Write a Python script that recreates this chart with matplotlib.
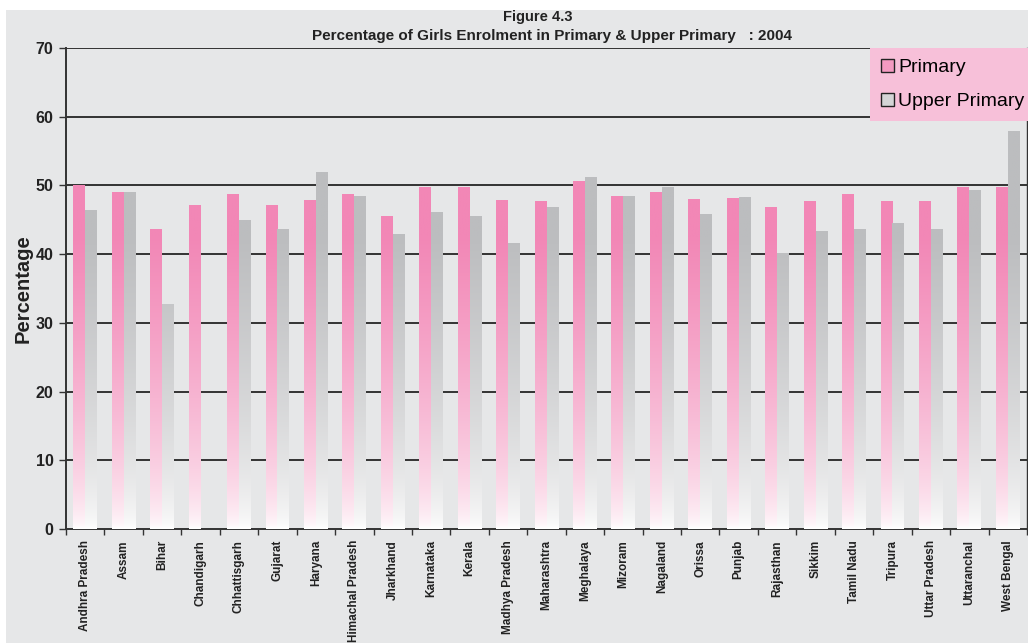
import numpy as np
import matplotlib
matplotlib.use("Agg")
import matplotlib.pyplot as plt
from matplotlib.patches import Rectangle, Patch
from matplotlib.colors import to_rgb

# data
states = ["Andhra Pradesh", "Assam", "Bihar", "Chandigarh", "Chhattisgarh", "Gujarat",
          "Haryana", "Himachal Pradesh", "Jharkhand", "Karnataka", "Kerala",
          "Madhya Pradesh", "Maharashtra", "Meghalaya", "Mizoram", "Nagaland",
          "Orissa", "Punjab", "Rajasthan", "Sikkim", "Tamil Nadu", "Tripura",
          "Uttar Pradesh", "Uttaranchal", "West Bengal"]
primary = [50.0, 49.1, 43.7, 47.2, 48.8, 47.2, 47.9, 48.8, 45.6, 49.7, 49.7,
           47.9, 47.7, 50.6, 48.5, 49.0, 48.0, 48.1, 46.9, 47.8, 48.7, 47.8,
           47.7, 49.7, 49.7]
upper_primary = [46.4, 49.1, 32.8, 0.0, 44.9, 43.7, 52.0, 48.4, 43.0, 46.2, 45.6,
                 41.6, 46.9, 51.2, 48.5, 49.7, 45.8, 48.3, 40.2, 43.3, 43.7, 44.6,
                 43.6, 49.3, 57.9]
yticks = [0, 10, 20, 30, 40, 50, 60, 70]

BG = "#e6e7e8"
PINK = "#f287b6"
GREY = "#bcbdbf"
DARK = "#333333"
NARROW = ["Liberation Sans Narrow", "Liberation Sans", "DejaVu Sans"]
ARIAL = ["Liberation Sans", "DejaVu Sans"]


def gradient(color, n=256):
    # colour at top fading to white at the bottom (y = 0)
    c = np.array(to_rgb(color))
    t = np.linspace(0, 1, n) ** 0.6
    t = np.clip(t * 1.35, 0, 1)
    img = 1 - (1 - c)[None, :] * t[:, None]
    return img[:, None, :]


fig = plt.figure(figsize=(10.28, 6.43), dpi=100)
fig.patch.set_facecolor("white")
fig.patches.append(Rectangle((6 / 1028, 0), 1, 1 - 10 / 643, transform=fig.transFigure,
                             facecolor=BG, edgecolor="none", zorder=-5))

ax = fig.add_axes([66 / 1028, 1 - 529 / 643, 961 / 1028, 481 / 643])
ax.set_facecolor(BG)
ax.set_zorder(1)

x = np.arange(len(states))
w = 0.31
ax.set_xlim(-0.5, len(states) - 0.5)
ax.set_ylim(0, 70)

for vals, off, col in [(primary, -w / 2, PINK), (upper_primary, w / 2, GREY)]:
    bars = ax.bar(x + off, vals, w, color="none", edgecolor="none", zorder=3)
    img = gradient(col)
    for b in bars:
        if b.get_height() <= 0:
            continue
        im = ax.imshow(img, extent=[b.get_x(), b.get_x() + b.get_width(), 0, 70],
                       origin="lower", aspect="auto", zorder=3, interpolation="bilinear")
        im.set_clip_path(b)

ax.set_xlim(-0.5, len(states) - 0.5)
ax.set_ylim(0, 70)

for y in yticks[1:]:
    ax.axhline(y, color=DARK, lw=1.4, zorder=1)

for s in ["left", "bottom", "right"]:
    ax.spines[s].set_color(DARK)
    ax.spines[s].set_linewidth(1.4)
ax.spines["top"].set_visible(False)
ax.spines["right"].set_linewidth(1.0)

ax.set_yticks(yticks)
ax.set_yticklabels([str(v) for v in yticks], fontsize=11.5, fontweight="bold",
                   family=ARIAL, color="#222222")
ax.tick_params(axis="y", length=5, width=1, color=DARK, pad=4)

ax.set_xticks(x)
ax.set_xticklabels(states, rotation=90, fontsize=8.5, fontweight="bold",
                   family=NARROW, color="#222222")
ax.tick_params(axis="x", length=0, pad=8)
ax.set_xticks(np.arange(len(states) + 1) - 0.5, minor=True)
ax.tick_params(axis="x", which="minor", length=4, width=1, color=DARK)

ax.set_ylabel("Percentage", fontsize=14.5, fontweight="bold", family=ARIAL,
              color="#222222", labelpad=2)

fig.text(538 / 1028, 1 - 17 / 643, "Figure 4.3", ha="center", va="center",
         fontsize=10.5, fontweight="bold", family=NARROW, color="#222222")
fig.text(552 / 1028, 1 - 36 / 643,
         "Percentage of Girls Enrolment in Primary & Upper Primary   : 2004",
         ha="center", va="center", fontsize=11, fontweight="bold", family=NARROW,
         color="#222222")

handles = [Patch(facecolor="#f49ac1", edgecolor="#222222", label="Primary"),
           Patch(facecolor="#d4d5d6", edgecolor="#222222", label="Upper Primary")]
leg = fig.legend(handles=handles, loc="upper right",
                 bbox_to_anchor=(1 + 7 / 1028, 1 - 48 / 643),
                 prop={"family": ARIAL, "size": 14}, frameon=True, fancybox=False,
                 borderaxespad=0, handlelength=0.7, handleheight=0.7,
                 handletextpad=0.2, labelspacing=0.85, borderpad=0.55)
leg.get_frame().set_facecolor("#f7c0d9")
leg.get_frame().set_edgecolor("none")
leg.get_frame().set_alpha(1)
leg.set_zorder(5)

fig.savefig("out.png", dpi=100, facecolor=fig.get_facecolor())
